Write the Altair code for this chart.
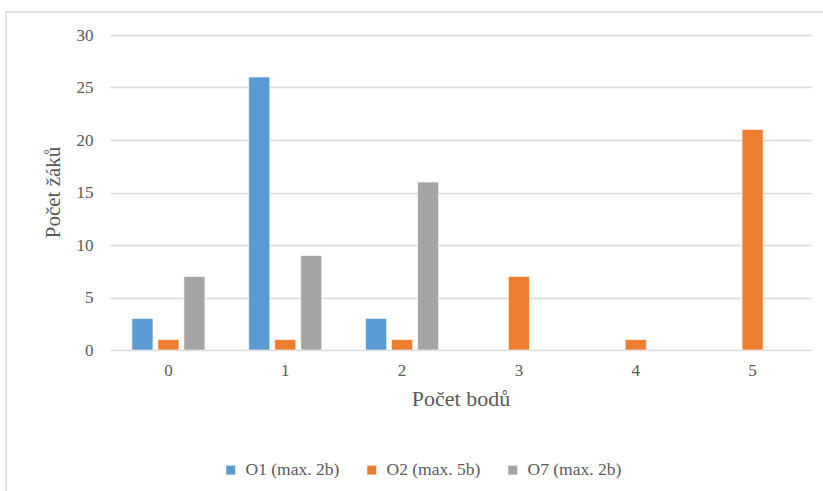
import altair as alt
import pandas as pd

# Points scored (x categories) and pupil counts per task
points = ["0", "1", "2", "3", "4", "5"]
series = ["O1 (max. 2b)", "O2 (max. 5b)", "O7 (max. 2b)"]
o1_counts = [3, 26, 3, None, None, None]
o2_counts = [1, 1, 1, 7, 1, 21]
o7_counts = [7, 9, 16, None, None, None]
colors = ["#5B9BD5", "#ED7D31", "#A5A5A5"]
y_ticks = [0, 5, 10, 15, 20, 25, 30]

rows = []
for name, counts in zip(series, [o1_counts, o2_counts, o7_counts]):
    for p, c in zip(points, counts):
        if c is not None:
            rows.append({"body": p, "uloha": name, "zaci": c})
df = pd.DataFrame(rows)

FONT = "Liberation Serif"
TEXT = "#595959"
GRID = "#D9D9D9"

bars = alt.Chart(df).mark_bar(stroke="white", strokeWidth=0.6).encode(
    x=alt.X(
        "body:N",
        sort=points,
        scale=alt.Scale(domain=points, paddingInner=0.375, paddingOuter=0.1875),
        axis=alt.Axis(
            title="Počet bodů",
            labelAngle=0,
            labelFontSize=17,
            labelPadding=12,
            labelFont=FONT,
            ticks=False,
            domain=False,
            grid=False,
            titleFont=FONT,
            titleFontSize=22,
            titleFontWeight="normal",
            titleY=55,
            titleBaseline="alphabetic",
        ),
    ),
    xOffset=alt.XOffset(
        "uloha:N",
        sort=series,
        scale=alt.Scale(domain=series, paddingInner=0.19, paddingOuter=0),
    ),
    y=alt.Y(
        "zaci:Q",
        scale=alt.Scale(domain=[0, 30], nice=False),
        axis=alt.Axis(
            title="Počet žáků",
            values=y_ticks,
            labelFont=FONT,
            labelFontSize=17,
            labelPadding=17,
            ticks=False,
            domain=False,
            gridColor=GRID,
            gridWidth=1.3,
            titleFont=FONT,
            titleFontSize=21,
            titleFontWeight="normal",
            titleX=-57,
            titleY=157,
            titleAlign="center",
            titleBaseline="middle",
        ),
    ),
    color=alt.Color(
        "uloha:N",
        sort=series,
        scale=alt.Scale(domain=series, range=colors),
        legend=alt.Legend(
            title=None,
            orient="none",
            direction="horizontal",
            legendX=112,
            legendY=426,
            symbolType="square",
            symbolSize=81,
            symbolStrokeWidth=0,
            labelFont=FONT,
            labelFontSize=17.5,
            labelOffset=6,
            columnPadding=23,
        ),
    ),
)

# Light outer frame of the chart area
frame = alt.Chart(pd.DataFrame({"f": [0]})).mark_rect(
    fill=None, stroke=GRID, strokeWidth=1.5, clip=False
).encode(
    x=alt.value(-104),
    x2=alt.value(730),
    y=alt.value(-23),
    y2=alt.value(480),
)

chart = (
    alt.layer(frame, bars)
    .properties(
        width=701,
        height=315,
        autosize=alt.AutoSizeParams(type="none"),
        padding={"left": 110, "top": 35, "right": 12, "bottom": 141},
        background="white",
    )
    .configure(font=FONT)
    .configure_view(stroke=None)
    .configure_axis(
        labelFont=FONT,
        titleFont=FONT,
        labelColor=TEXT,
        titleColor=TEXT,
    )
    .configure_legend(labelFont=FONT, labelColor=TEXT)
)

chart.save("out.html", embed_options={"renderer": "svg", "actions": False})
